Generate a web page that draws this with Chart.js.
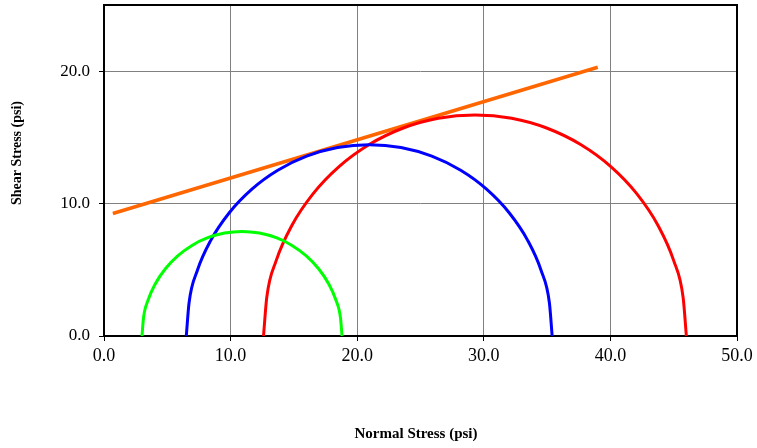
<!DOCTYPE html>
<html>
<head>
<meta charset="utf-8">
<script src="https://cdn.jsdelivr.net/npm/chart.js@4.4.1/dist/chart.umd.min.js"></script>
<style>
  html, body { margin: 0; padding: 0; background: #ffffff; }
  #wrap { width: 757px; height: 448px; position: relative; }
</style>
</head>
<body>
<div id="wrap"><canvas id="c" width="757" height="448"></canvas></div>
<script>
// Principal stresses (psi) for the three tests: minor (sigma3) and major (sigma1)
const testNames = ['Test 1', 'Test 2', 'Test 3'];
const sigma3 = [3.0, 6.5, 12.6];
const sigma1 = [18.8, 35.4, 46.0];
const circleColors = ['#00ff00', '#0000ff', '#ff0000'];

// Failure envelope end points (normal stress, shear stress)
const envelopeX = [0.7, 39.0];
const envelopeY = [9.25, 20.3];

// Axis ticks
const xTicks = [0, 10, 20, 30, 40, 50];
const yTicks = [0, 10, 20];

// Mohr semicircle sampled every 10 degrees, from sigma3 to sigma1
function mohrArc(s3, s1) {
  const c = (s1 + s3) / 2, r = (s1 - s3) / 2;
  const pts = [];
  for (let a = 180; a >= 0; a -= 10) {
    const t = a * Math.PI / 180;
    pts.push({ x: c + r * Math.cos(t), y: r * Math.sin(t) });
  }
  return pts;
}

const datasets = testNames.map((name, i) => ({
  label: name,
  data: mohrArc(sigma3[i], sigma1[i]),
  borderColor: circleColors[i],
  borderWidth: 3,
  showLine: true,
  cubicInterpolationMode: 'monotone',
  pointRadius: 0,
  fill: false
}));
datasets.push({
  label: 'Envelope',
  data: envelopeX.map((x, i) => ({ x: x, y: envelopeY[i] })),
  borderColor: '#ff6600',
  borderWidth: 3.5,
  showLine: true,
  tension: 0,
  pointRadius: 0,
  fill: false
});

// Plot frame and axis titles
const framePlugin = {
  id: 'frame',
  beforeDatasetsDraw(chart) {
    const { ctx, chartArea: a } = chart;
    ctx.save();
    ctx.strokeStyle = '#000000';
    ctx.lineWidth = 2;
    ctx.strokeRect(a.left, a.top, a.right - a.left, a.bottom - a.top);
    ctx.restore();
  },
  afterDraw(chart) {
    const { ctx } = chart;
    ctx.save();
    ctx.fillStyle = '#000000';
    ctx.textAlign = 'center';
    ctx.textBaseline = 'middle';
    ctx.font = 'bold 15px "Liberation Serif", "Times New Roman", serif';
    ctx.fillText('Normal Stress (psi)', 416, 434);
    ctx.font = 'bold 14px "Liberation Serif", "Times New Roman", serif';
    ctx.translate(17, 153);
    ctx.rotate(-Math.PI / 2);
    ctx.fillText('Shear Stress (psi)', 0, 0);
    ctx.restore();
  }
};

new Chart(document.getElementById('c'), {
  type: 'scatter',
  data: { datasets: datasets },
  options: {
    responsive: false,
    animation: false,
    devicePixelRatio: 1,
    layout: { padding: { top: 5, right: 20, left: 0, bottom: 0 } },
    plugins: { legend: { display: false }, tooltip: { enabled: false } },
    scales: {
      x: {
        type: 'linear',
        min: 0,
        max: 50,
        afterFit(s) { s.height = 112; s.paddingLeft = 0; s.paddingRight = 0; },
        afterBuildTicks(s) { s.ticks = xTicks.map(v => ({ value: v })); },
        grid: { color: '#808080', lineWidth: 1, tickLength: 5, tickColor: '#000000', tickWidth: 1 },
        border: { display: false },
        ticks: {
          color: '#000000',
          padding: 4,
          maxRotation: 0,
          font: { family: '"Liberation Serif", "Times New Roman", serif', size: 18 },
          callback: v => Number(v).toFixed(1)
        }
      },
      y: {
        type: 'linear',
        min: 0,
        max: 25,
        afterFit(s) { s.width = 104; s.paddingTop = 0; s.paddingBottom = 0; },
        afterBuildTicks(s) { s.ticks = yTicks.map(v => ({ value: v })); },
        grid: { color: '#808080', lineWidth: 1, tickLength: 5, tickColor: '#000000', tickWidth: 1 },
        border: { display: false },
        ticks: {
          color: '#000000',
          padding: 9,
          font: { family: '"Liberation Serif", "Times New Roman", serif', size: 17 },
          callback: v => Number(v).toFixed(1)
        }
      }
    }
  },
  plugins: [framePlugin]
});
</script>
</body>
</html>
